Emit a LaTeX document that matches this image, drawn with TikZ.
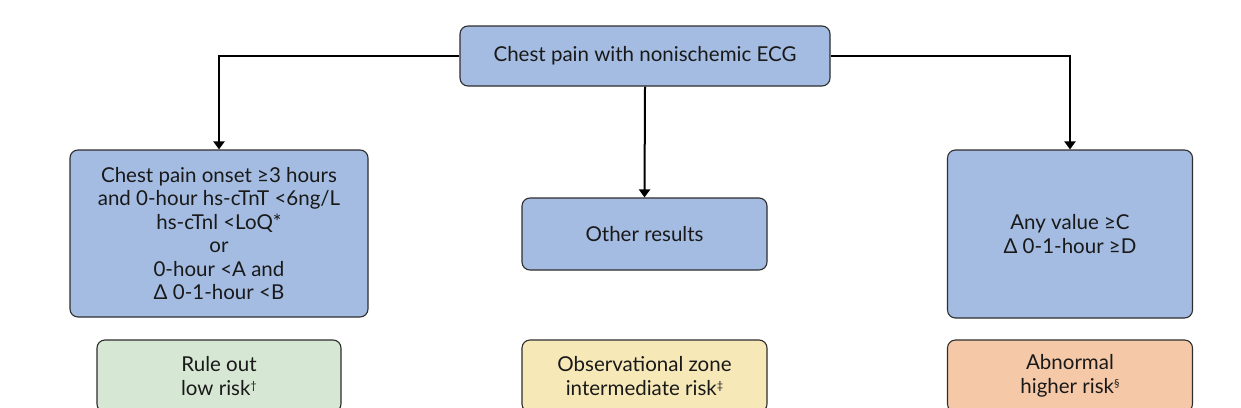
\documentclass[tikz,border=0pt]{standalone}
\usepackage{fontspec}
\setmainfont{Lato}
\usetikzlibrary{arrows.meta,positioning}
\definecolor{boxblue}{HTML}{A4BCE2}
\definecolor{boxgreen}{HTML}{D6E8D3}
\definecolor{boxyellow}{HTML}{F7E8B8}
\definecolor{boxorange}{HTML}{F5C9A7}
\definecolor{edgegray}{HTML}{2E2E2E}
\newcommand{\supmark}[1]{\raisebox{0.55ex}{\fontsize{11}{11}\selectfont #1}}
\begin{document}
\begin{tikzpicture}[x=1pt,y=-1pt,
  box/.style={draw=edgegray,line width=1.1pt,rounded corners=8pt,align=center,
    font=\fontsize{20.5}{23.5}\selectfont,text=black!90,inner sep=0pt},
  conn/.style={line width=2pt,-{Triangle[length=8pt,width=11pt]}}]
\useasboundingbox (0,0) rectangle (1241,407);
\clip (0,0) rectangle (1241,407);
\fill[white] (0,0) rectangle (1241,407);
% top
\node[box,fill=boxblue,minimum width=370pt,minimum height=60pt] (top) at (645,56) {Chest pain with nonischemic ECG};
% middle row
\node[box,fill=boxblue,minimum width=298pt,minimum height=167pt] (left) at (219,233.5) {Chest pain onset ≥3 hours\\and 0-hour hs-cTnT <6ng/L\\hs-cTnl <LoQ*\\or\\0-hour <A and\\Δ 0-1-hour <B};
\node[box,fill=boxblue,minimum width=245pt,minimum height=72pt] (mid) at (644.5,234) {Other results};
\node[box,fill=boxblue,minimum width=245pt,minimum height=168pt] (right) at (1070,234) {Any value ≥C\\Δ 0-1-hour ≥D};
% bottom row
\node[box,fill=boxgreen,minimum width=244pt,minimum height=72pt] (lo) at (219,376) {Rule out\\low risk\supmark{†}};
\node[box,fill=boxyellow,minimum width=245pt,minimum height=72pt] (obs) at (644.5,376) {Observational zone\\intermediate risk\supmark{‡}};
\node[box,fill=boxorange,minimum width=245pt,minimum height=72pt] (hi) at (1070,376) {Abnormal\\higher risk\supmark{§}};
% connectors
\draw[conn] (top.west) -| (left.north);
\draw[conn] (top.east) -| (right.north);
\draw[conn] (top.south) -- (mid.north);
\end{tikzpicture}
\end{document}
